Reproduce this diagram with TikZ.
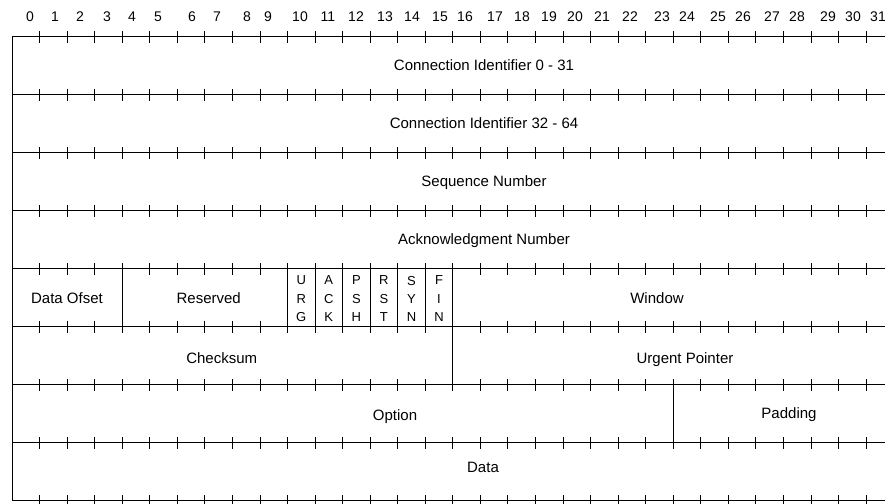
\documentclass[tikz,border=0pt]{standalone}
\usepackage{fontspec}
\setmainfont{Liberation Sans}

\tikzset{
    field/.style={font=\fontsize{15}{18}\selectfont, inner sep=0pt, anchor=base},
    bitno/.style={font=\fontsize{14}{16}\selectfont, inner sep=0pt, anchor=base},
    flag/.style={font=\fontsize{13}{18.3}\selectfont, inner sep=0pt, align=center},
    rule/.style={line width=0.9pt}
}

\begin{document}
\begin{tikzpicture}[x=1pt, y=-1pt]
                    \useasboundingbox (0,0) rectangle (885,503);

                    % bit numbers
                    \foreach \x [count=\n from 0] in {30,55,80,107,132,158,192,217,247,268,300,328,356,385,412,440,465,495,522,549,575,602,630,662,687,718,743,772,797,828,853,878}
                        \node[bitno] (b\n) at (\x,21.7) {\n};

                    % rows and ticks
                    \foreach \j in {0,...,8} {
                        \draw[rule] (12,{36+58*\j}) -- (885,{36+58*\j});
                        \foreach \k in {1,...,31}
                            \draw[rule] ({12+27.55*\k},{31+58*\j}) -- ({12+27.55*\k},{43+58*\j});
                    }
                    \draw[rule] (12,36) -- (12,500);

                    % field borders
                    \foreach \k in {4,10,11,12,13,14,15,16}
                        \draw[rule] ({12+27.55*\k},268) -- ({12+27.55*\k},326);
                    \draw[rule] ({12+27.55*16},326) -- ({12+27.55*16},384);
                    \draw[rule] ({12+27.55*24},384) -- ({12+27.55*24},442);

                    \node[field] (cid1) at (484,70.4) {Connection Identifier 0 - 31};
                    \node[field] (cid2) at (484,128.4) {Connection Identifier 32 - 64};
                    \node[field] (seq) at (484,186.4) {Sequence Number};
                    \node[field] (ack) at (484,244.4) {Acknowledgment Number};
                    \node[field] (doff) at (67,303.4) {Data Ofset};
                    \node[field] (rsv) at (208.7,303.4) {Reserved};
                    \node[field] (win) at (657,303.4) {Window};
                    \node[field] (csum) at (221.7,363.4) {Checksum};
                    \node[field] (uptr) at (685,363.4) {Urgent Pointer};
                    \node[field] (opt) at (395,420.4) {Option};
                    \node[field] (pad) at (789,418) {Padding};
                    \node[field] (data) at (483,472.4) {Data};

                    % flags
                    \foreach \k/\nm/\txt in {10/furg/{U\\R\\G}, 11/fack/{A\\C\\K}, 12/fpsh/{P\\S\\H},
                                             13/frst/{R\\S\\T}, 14/fsyn/{S\\Y\\N}, 15/ffin/{F\\I\\N}}
                        \node[flag] (\nm) at ({12+27.55*\k+13.78},298.8) {\txt};
\end{tikzpicture}
\end{document}
